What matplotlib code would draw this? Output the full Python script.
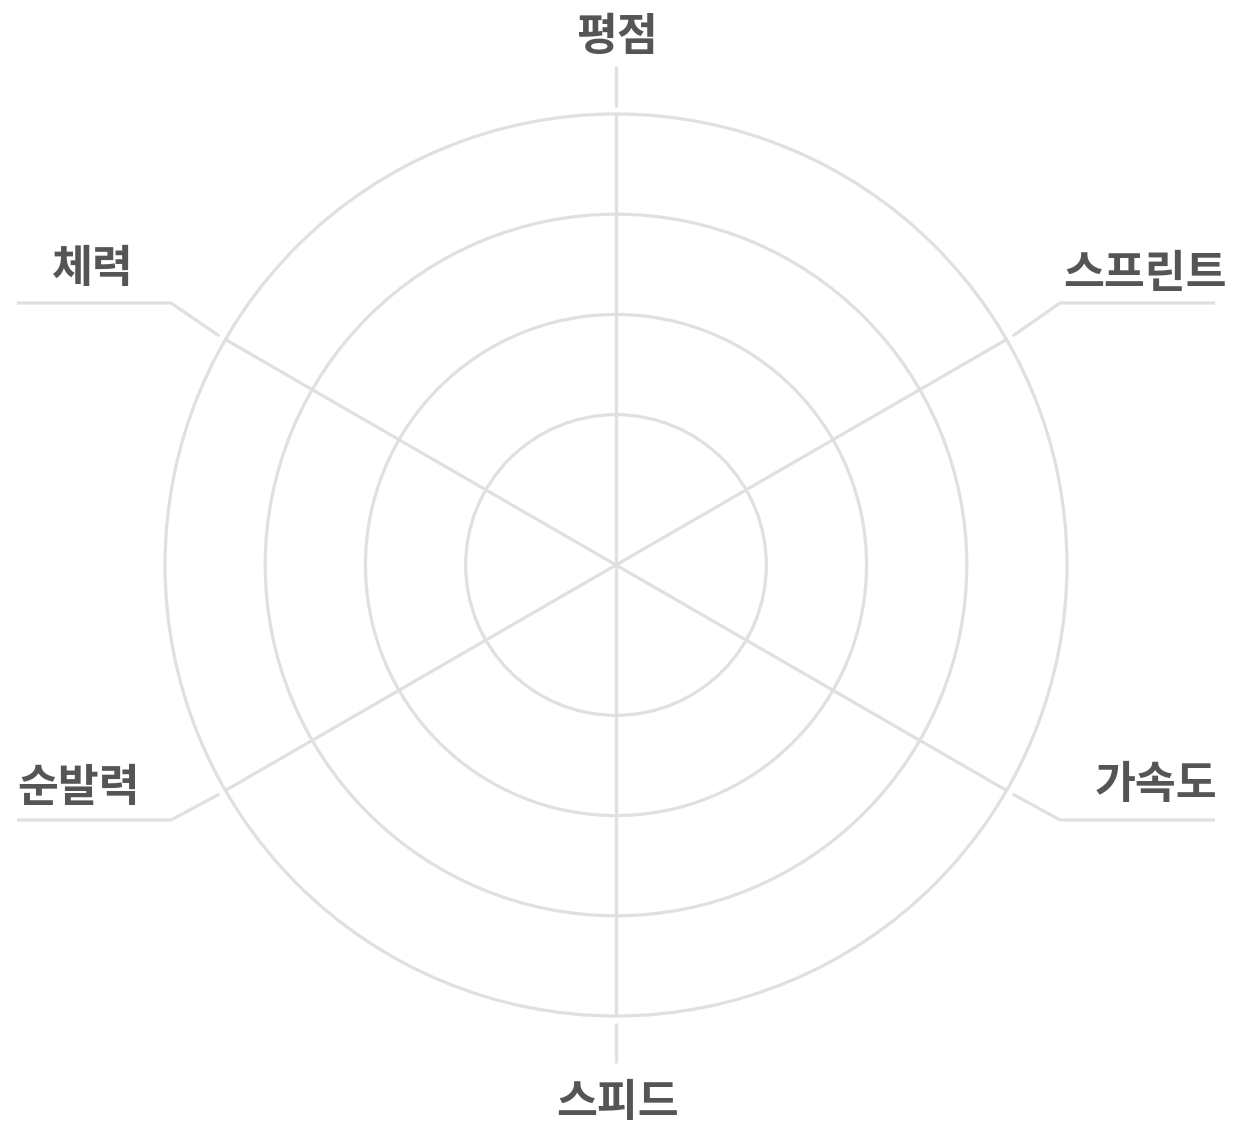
import numpy as np
import matplotlib
matplotlib.use("Agg")
import matplotlib.pyplot as plt
from matplotlib.patches import Circle

# ---- data ----
categories = ["평점", "스프린트", "가속도", "스피드", "순발력", "체력"]
angles_deg = [90, 30, -30, -90, -150, 150]
ring_levels = [1, 2, 3, 4]          # grid rings (radial axis from -0.5 to 4)
r_min, r_max = -0.5, 4.0

# ---- layout (pixel units) ----
W, H = 1248, 1132
cx, cy = 616, 565
R = 451                      # outer ring radius
lead_start = 458
# leader geometry: (elbow_x, elbow_y, end_x) for side labels, ("v", r_end) for vertical
leaders = {
    "평점": ("v", 499),
    "스피드": ("v", 498),
    "스프린트": (1060, 303, 1215),
    "가속도": (1060, 820, 1215),
    "순발력": (171, 820, 17),
    "체력": (171, 303, 17),
}
label_pos = {
    "평점": (617, 37),
    "스프린트": (1145, 274),
    "가속도": (1156, 785),
    "스피드": (617, 1103),
    "순발력": (79, 788),
    "체력": (93, 269),
}

grid_color = "#e0e0e0"
text_color = "#555555"
lw = 2.3

fig = plt.figure(figsize=(W / 100, H / 100), dpi=100)
ax = fig.add_axes([0, 0, 1, 1])
ax.set_xlim(0, W)
ax.set_ylim(H, 0)
ax.axis("off")

def rad(v):
    return (v - r_min) / (r_max - r_min) * R

for lv in ring_levels:
    ax.add_patch(Circle((cx, cy), rad(lv), fill=False, ec=grid_color, lw=lw))

for cat, a in zip(categories, angles_deg):
    t = np.deg2rad(a)
    ux, uy = np.cos(t), -np.sin(t)
    # grid spoke
    ax.plot([cx, cx + R * ux], [cy, cy + R * uy], color=grid_color, lw=lw,
            solid_capstyle="butt")
    # leader line
    x0, y0 = cx + lead_start * ux, cy + lead_start * uy
    ld = leaders[cat]
    if ld[0] == "v":
        r1 = ld[1]
        ax.plot([x0, cx + r1 * ux], [y0, cy + r1 * uy], color=grid_color, lw=lw,
                solid_capstyle="butt")
    else:
        ex, ey, endx = ld
        ax.plot([x0, ex, endx], [y0, ey, ey], color=grid_color, lw=lw,
                solid_capstyle="butt", solid_joinstyle="miter")
    lx, ly = label_pos[cat]
    ax.text(lx, ly, cat, ha="center", va="center", fontsize=32,
            fontweight="bold", color=text_color,
            family=["Noto Sans CJK KR", "DejaVu Sans"])

fig.savefig("out.png", dpi=100, facecolor="white")
